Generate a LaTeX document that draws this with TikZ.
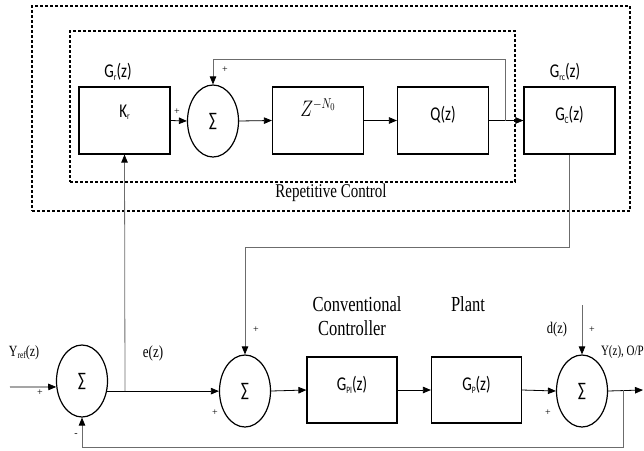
\documentclass[tikz,border=0pt]{standalone}
\usepackage{fontspec}
\setmainfont{Liberation Serif}
\newfontfamily\calfnt{Carlito}
\usetikzlibrary{shapes.geometric,arrows.meta}
\newcommand\vst[1]{\scalebox{1}[1.3]{#1}}
\newcommand\sbx[1]{\raisebox{-0.25ex}{\fontsize{7.5}{7.5}\selectfont #1}}
\begin{document}
\begin{tikzpicture}[x=1pt,y=-1pt,
  blk/.style={draw,line width=1.2pt,minimum width=91pt,minimum height=67pt,inner sep=0pt},
  sumn/.style={draw,ellipse,line width=1.2pt,minimum width=51pt,minimum height=72pt,inner sep=0pt,font=\calfnt\fontsize{15}{16}\selectfont},
  bl/.style={inner sep=0pt,font=\calfnt\fontsize{15}{16}\selectfont},
  ser/.style={inner sep=0pt,font=\fontsize{#1}{#1}\selectfont},
  ser/.default=13,
  pls/.style={inner sep=0pt,font=\fontsize{10}{10}\selectfont},
  ar/.style={-{Triangle[length=8pt,width=6.5pt,color=black]},line width=0.8pt},
  gl/.style={draw=gray!85!black,line width=0.8pt},
  dsh/.style={draw,line width=1.1pt,dash pattern=on 3pt off 2pt}]
\useasboundingbox (0,0) rectangle (644,450);
% dashed frames
\node[dsh,minimum width=598pt,minimum height=205pt,inner sep=0pt] (outer) at (331,108.5) {};
\node[dsh,minimum width=445pt,minimum height=151pt,inner sep=0pt] (inner) at (292.5,106.5) {};
\node[ser=15] (rc) at (331,193) {\vst{Repetitive Control}};
% top row
\node[blk] (kr) at (124.5,120.5) {};
\node[bl] (krt) at (124.5,112) {\vst{K\sbx{r}}};
\node[bl] (grt) at (118,72) {\vst{G\sbx{r}(z)}};
\node[sumn] (s1) at (213,121) {\vst{∑}};
\node[blk] (zb) at (318,120.5) {};
\node[inner sep=0pt,font=\fontsize{16}{16}\selectfont] (zt) at (318,108) {\vst{$Z^{-N_0}$}};
\node[blk] (qb) at (443,120.5) {};
\node[bl] (qt) at (443,115) {\vst{Q(z)}};
\node[blk] (gc) at (569.5,120.5) {};
\node[bl] (gct) at (569.5,115) {\vst{G\sbx{C}(z)}};
\node[bl] (grct) at (565,72) {\vst{G\sbx{rc}(z)}};
\node[pls] (p1) at (177,112) {+};
\node[pls] (p2) at (225,70) {+};
\draw[ar] (kr.east) -- (s1.west);
\draw[ar] (s1.east) -- (zb.west);
\draw[ar] (zb.east) -- (qb.west);
\draw[ar] (qb.east) -- (gc.west);
\coordinate (qbr) at (505,120.5);
\draw[ar,gl] (qbr) -- (qbr |- 0,59) -| (s1.north);
% bottom row
\node[sumn] (s3) at (82,381) {\vst{∑}};
\node[sumn] (s2) at (245,391) {\vst{∑}};
\node[blk,minimum width=90pt,minimum height=66pt] (gpi) at (352,390) {};
\node[bl] (gpit) at (352,385) {\vst{G\sbx{PI}(z)}};
\node[blk,minimum width=90pt,minimum height=66pt] (gp) at (476.5,390) {};
\node[bl] (gpt) at (476.5,385) {\vst{G\sbx{P}(z)}};
\node[sumn] (s4) at (582,391) {\vst{∑}};
\node[ser=16.5] (conv) at (357,304) {\vst{Conventional}};
\node[ser=16.5] (ctrl) at (352,328) {\vst{Controller}};
\node[ser=16.5] (plant) at (468,304) {\vst{Plant}};
\node[ser=12] (yref) at (24,353) {\vst{Y\sbx{ref}(z)}};
\node[ser=13] (ez) at (153,353) {\vst{e(z)}};
\node[ser=12.5] (dz) at (557,330) {\vst{d(z)}};
\node[ser=11,anchor=east] (yz) at (644,352) {\vst{Y(z), O/P}};
\node[pls] (p3) at (40,393) {+};
\node[pls] (m3) at (76,435) {-};
\node[pls] (p4) at (256,330) {+};
\node[pls] (p5) at (215,413) {+};
\node[pls] (p6) at (592,330) {+};
\node[pls] (p7) at (548,413) {+};
\coordinate (yin) at (10,387);
\draw[ar] (yin) -- (s3.193);
\draw[ar] (s3.-22) -- (s3.-22 -| s2.west);
\coordinate (eb) at (125,391);
\draw[ar,gl] (eb) -- (kr.south);
\coordinate (k1) at (245,247);
\draw[gl] (gc.south) |- (k1);
\draw[ar,gl] (k1) -- (s2.north);
\draw[ar] (s2.east) -- (gpi.west);
\draw[ar] (gpi.east) -- (gp.west);
\draw[ar] (gp.east) -- (s4.west);
\coordinate (out) at (643,390);
\draw[ar] (s4.east) -- (out);
\coordinate (ob) at (623,390);
\coordinate (fb) at (623,447);
\draw[ar,gl] (ob) -- (fb) -| (s3.south);
\coordinate (dtop) at (582,305);
\draw[ar,gl] (dtop) -- (s4.north);
\end{tikzpicture}
\end{document}
